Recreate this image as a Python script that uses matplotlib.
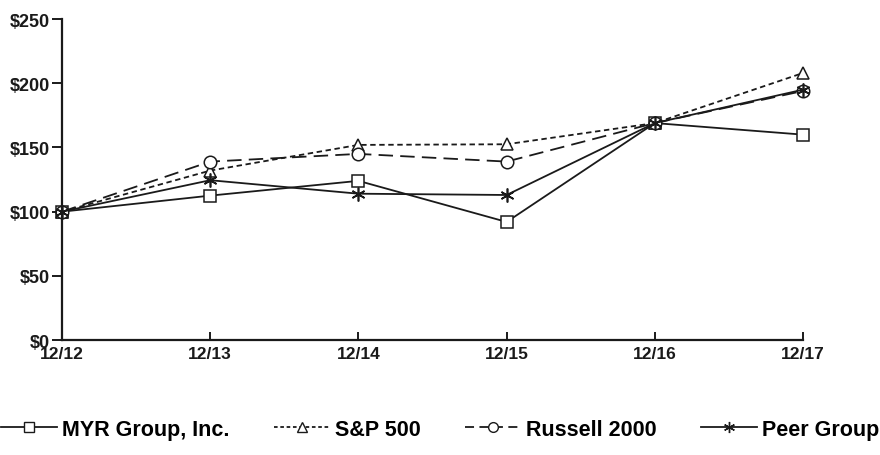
import matplotlib
matplotlib.use('Agg')
import matplotlib.pyplot as plt
from matplotlib.lines import Line2D

plt.rcParams['font.family'] = ['Liberation Sans', 'DejaVu Sans']
plt.rcParams['font.weight'] = 'bold'

years = ['12/12', '12/13', '12/14', '12/15', '12/16', '12/17']
myr = [100, 112.5, 124, 92, 169, 160]
sp500 = [100, 132, 152, 152.5, 169, 208]
russell = [100, 139, 145, 139, 169, 194]
peer = [100, 124.5, 114, 113, 169, 195]

fig = plt.figure(figsize=(8.8, 4.56), dpi=100)
ax = fig.add_axes([0.0705, 0.252, 0.842, 0.704])

x = range(len(years))
lw = 1.3
c = '#1a1a1a'
ax.plot(x, myr, color=c, lw=lw, ls='-', marker='s', ms=9, mfc='white', mec=c, mew=1.1, clip_on=False)
ax.plot(x, sp500, color=c, lw=lw, ls=(0, (3, 2)), marker='^', ms=9, mfc='white', mec=c, mew=1.1, clip_on=False)
ax.plot(x, russell, color=c, lw=lw, ls=(0, (8, 4)), marker='o', ms=9, mfc='white', mec=c, mew=1.1, clip_on=False)
ax.plot(x, peer, color=c, lw=lw, ls='-', marker=(6, 2, 0), ms=10, mec=c, mew=1.2, clip_on=False)

ax.set_xlim(0, 5)
ax.set_ylim(0, 250)
ax.set_yticks([0, 50, 100, 150, 200, 250])
ax.set_yticklabels(['$0', '$50', '$100', '$150', '$200', '$250'])
ax.set_xticks(list(x))
ax.set_xticklabels(years)
for s in ['top', 'right']:
    ax.spines[s].set_visible(False)
for s in ['left', 'bottom']:
    ax.spines[s].set_linewidth(1.6)
    ax.spines[s].set_color(c)
ax.tick_params(axis='y', direction='out', length=7, width=1.4, labelsize=13, pad=2, colors=c)
ax.tick_params(axis='x', direction='in', length=6, width=1.4, labelsize=12.5, pad=4, colors=c)
for lab in ax.get_xticklabels() + ax.get_yticklabels():
    lab.set_fontweight('bold')

handles = [
    Line2D([], [], color=c, lw=lw, ls='-', marker='s', ms=7, mfc='white', mec=c),
    Line2D([], [], color=c, lw=lw, ls=(0, (2, 1.5)), marker='^', ms=7, mfc='white', mec=c),
    Line2D([], [], color=c, lw=lw, ls=(0, (5, 3)), marker='o', ms=7, mfc='white', mec=c),
    Line2D([], [], color=c, lw=lw, ls='-', marker=(6, 2, 0), ms=8, mec=c),
]
labels = ['MYR Group, Inc.', 'S&P 500', 'Russell 2000', 'Peer Group']
fig.legend(handles, labels, loc='center', bbox_to_anchor=(0.5, 0.056), ncol=4, frameon=False,
           prop={'size': 15.5, 'weight': 'bold'}, handlelength=2.6, handletextpad=0.25,
           columnspacing=2.05, borderpad=0, borderaxespad=0)

fig.savefig('out.png', dpi=100)
